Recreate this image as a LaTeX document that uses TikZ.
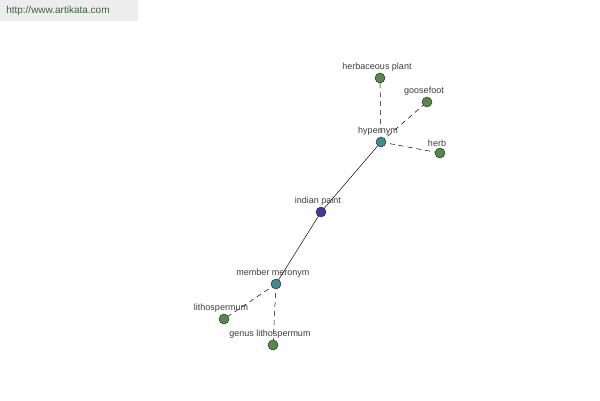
\documentclass[tikz,border=0pt]{standalone}
\usepackage{fontspec}
\setmainfont{Liberation Sans}
\usetikzlibrary{backgrounds}

\definecolor{leafgreen}{RGB}{84,138,72}
\definecolor{relteal}{RGB}{62,140,146}
\definecolor{wordblue}{RGB}{58,60,158}
\definecolor{textgray}{RGB}{60,60,60}
\definecolor{sitegreen}{RGB}{56,100,56}

\begin{document}
\begin{tikzpicture}[x=1pt, y=-1pt,
  every node/.style = {shape=circle, draw=black!80, line width=0.5pt,
    minimum size=10pt, inner sep=0pt},
  lbl/.style = {shape=rectangle, draw=none, fill=none, minimum size=0pt,
    inner sep=1pt, font=\fontsize{9}{10}\selectfont, text=textgray,
    xshift=-3pt},
  leaf/.style = {fill=leafgreen},
  rel/.style = {fill=relteal},
  word/.style = {fill=wordblue},
  link/.style = {line width=0.5pt, black},
  weak/.style = {link, dash pattern=on 5pt off 4pt}]
  \useasboundingbox (0,0) rectangle (600,400);
  % site banner
  \fill[black!7] (0,0) rectangle (138,21);
  \node[draw=none, shape=rectangle, anchor=west, text=sitegreen,
    font=\fontsize{10}{12}\selectfont] (site) at (6,11) {http://www.artikata.com};

  % words
  \node[word, label={[lbl]above:indian paint}] (indianpaint) at (321,212) {};
  \node[rel, label={[lbl]above:hypernym}] (hypernym) at (381,142) {};
  \node[rel, label={[lbl]above:member meronym}] (meronym) at (276,284) {};
  \node[leaf, label={[lbl]above:herbaceous plant}] (herbplant) at (380,78) {};
  \node[leaf, label={[lbl]above:goosefoot}] (goosefoot) at (427,102) {};
  \node[leaf, label={[lbl]above:herb}] (herb) at (440,153) {};
  \node[leaf, label={[lbl]above:lithospermum}] (litho) at (224,319) {};
  \node[leaf, label={[lbl]above:genus lithospermum}] (genuslitho) at (273,345) {};

  % links
  \begin{scope}[on background layer]
    \draw[link] (hypernym.center) -- (indianpaint.center) -- (meronym.center);
    \draw[weak] (hypernym.center) -- (herbplant.center);
    \draw[weak] (hypernym.center) -- (goosefoot.center);
    \draw[weak] (hypernym.center) -- (herb.center);
    \draw[weak] (meronym.center) -- (litho.center);
    \draw[weak] (meronym.center) -- (genuslitho.center);
  \end{scope}
\end{tikzpicture}
\end{document}
